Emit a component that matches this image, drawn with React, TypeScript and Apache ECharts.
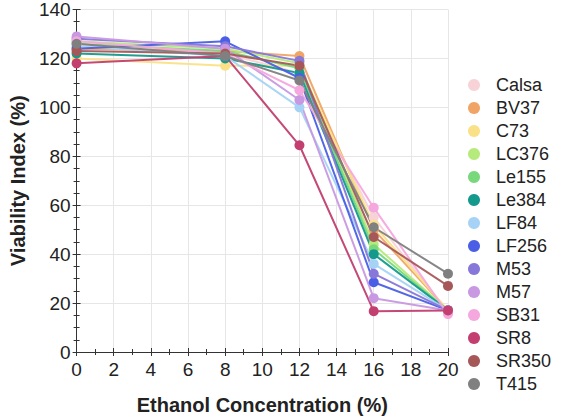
import React, { useEffect, useRef } from "react";
import * as echarts from "echarts";

const xValues = [0, 8, 12, 16, 20];
const seriesNames = ["Calsa", "BV37", "C73", "LC376", "Le155", "Le384", "LF84", "LF256", "M53", "M57", "SB31", "SR8", "SR350", "T415"];
const seriesColors = ["#f7d3d8", "#f0a566", "#fae187", "#b6ea7a", "#78d97c", "#14998c", "#a6d3f5", "#4b5fe6", "#8777d9", "#c898e2", "#f5a8de", "#c23f70", "#a65858", "#808080"];

const calsa = [125, 122, 114, 55, 16];
const bv37 = [124, 123, 121, 50, 17];
const c73 = [120, 117, 117, 52, 17];
const lc376 = [127, 124, 118, 44, 17];
const le155 = [126, 123, 116, 42, 17];
const le384 = [122, 120, 114, 40, 17];
const lf84 = [125, 121, 100, 36, 17];
const lf256 = [124, 127, 112, 28.5, 17];
const m53 = [128, 125, 119, 32, 17];
const m57 = [129, 124, 103, 22, 17];
const sb31 = [127, 122, 107, 59, 15.5];
const sr8 = [118, 121, 84.5, 16.7, 17];
const sr350 = [123, 122, 117, 47, 27];
const t415 = [126, 121, 111, 51, 32];

const seriesValues = [calsa, bv37, c73, lc376, le155, le384, lf84, lf256, m53, m57, sb31, sr8, sr350, t415];

const FONT = "Liberation Sans, Arial, sans-serif";

export default function App() {
  const ref = useRef<HTMLDivElement>(null);
  useEffect(() => {
    if (!ref.current) return;
    const chart = echarts.init(ref.current, null, { renderer: "svg" });
    const axisLine = { show: true, lineStyle: { color: "#333", width: 1 } };
    const tickStyle = { lineStyle: { color: "#333", width: 1 } };
    chart.setOption({
      animation: false,
      backgroundColor: "#fff",
      textStyle: { fontFamily: FONT },
      grid: { left: 68, top: 8, width: 380, height: 350 },
      legend: {
        orient: "vertical",
        left: 463,
        top: 71,
        itemWidth: 30,
        itemHeight: 12,
        itemGap: 5,
        icon: "circle",
        data: seriesNames,
        textStyle: { fontSize: 18, color: "#222", fontFamily: FONT, padding: [0, 0, 0, 2] },
      },
      xAxis: [
        {
          type: "value",
          min: 0,
          max: 20,
          interval: 2,
          position: "bottom",
          name: "Ethanol Concentration (%)",
          nameLocation: "middle",
          nameGap: 43,
          nameTextStyle: { fontSize: 20, fontWeight: "bold", color: "#222", fontFamily: FONT },
          axisLine,
          axisTick: { show: true, inside: true, length: 4, ...tickStyle },
          minorTick: { show: true, splitNumber: 2, length: 3, lineStyle: { color: "#333" } },
          axisLabel: { fontSize: 19, color: "#222", margin: 8, fontFamily: FONT },
          splitLine: { show: true, lineStyle: { color: "#e6e6e6" } },
        },
        {
          type: "value",
          min: 0,
          max: 20,
          interval: 2,
          position: "top",
          axisLine,
          axisTick: { show: true, inside: true, length: 4, ...tickStyle },
          minorTick: { show: true, splitNumber: 2, length: 3, lineStyle: { color: "#333" } },
          axisLabel: { show: false },
          splitLine: { show: false },
        },
      ],
      yAxis: [
        {
          type: "value",
          min: 0,
          max: 140,
          interval: 20,
          position: "left",
          name: "Viability Index (%)",
          nameLocation: "middle",
          nameGap: 45,
          nameTextStyle: { fontSize: 20, fontWeight: "bold", color: "#222", fontFamily: FONT },
          axisLine,
          axisTick: { show: true, inside: true, length: 4, ...tickStyle },
          minorTick: { show: true, splitNumber: 4, length: 3, lineStyle: { color: "#333" } },
          axisLabel: { fontSize: 19, color: "#222", margin: 6, fontFamily: FONT },
          splitLine: { show: true, lineStyle: { color: "#e6e6e6" } },
        },
        {
          type: "value",
          min: 0,
          max: 140,
          interval: 20,
          position: "right",
          axisLine,
          axisTick: { show: true, inside: true, length: 4, ...tickStyle },
          minorTick: { show: true, splitNumber: 4, length: 3, lineStyle: { color: "#333" } },
          axisLabel: { show: false },
          splitLine: { show: false },
        },
      ],
      series: seriesNames.map((name, i) => ({
        name,
        type: "line",
        xAxisIndex: 0,
        yAxisIndex: 0,
        data: xValues.map((x, j) => [x, seriesValues[i][j]]),
        symbol: "circle",
        symbolSize: 10,
        color: seriesColors[i],
        lineStyle: { width: 2, color: seriesColors[i], opacity: 0.95 },
        itemStyle: { color: seriesColors[i] },
      })),
    });
    return () => chart.dispose();
  }, []);
  return <div ref={ref} style={{ position: "fixed", left: 0, top: 0, width: 566, height: 420 }} />;
}
